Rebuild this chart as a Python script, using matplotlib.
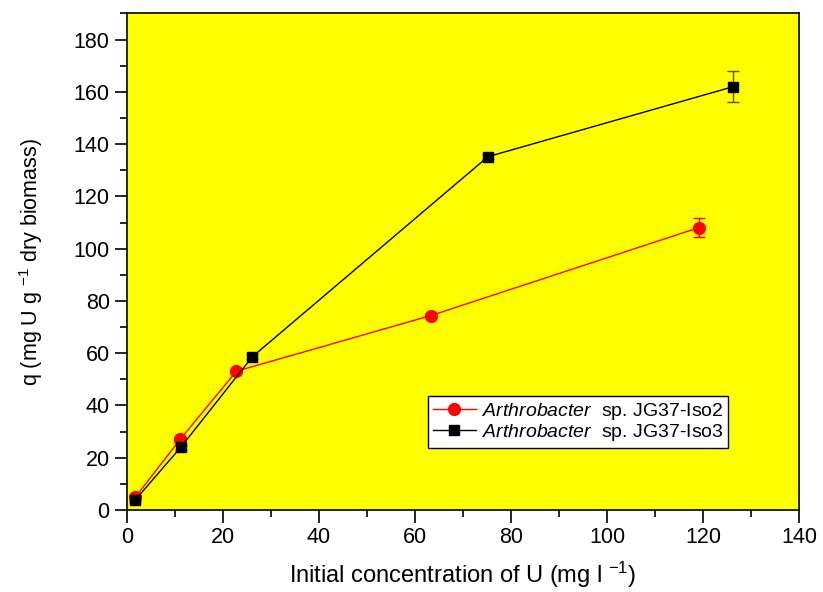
import matplotlib
matplotlib.use("Agg")
import matplotlib.pyplot as plt
from matplotlib.ticker import MultipleLocator
from matplotlib.lines import Line2D

plt.rcParams['font.family'] = ['Liberation Sans', 'DejaVu Sans']
plt.rcParams['mathtext.fontset'] = 'custom'
plt.rcParams['mathtext.rm'] = 'Liberation Sans'
plt.rcParams['mathtext.it'] = 'Liberation Sans:italic'

# Data
x_iso2 = [1.7, 11.1, 22.8, 63.3, 119.2]
q_iso2 = [4.8, 27.1, 53.1, 74.4, 108.1]
err_iso2 = [0.8, 1.0, 1.0, 1.0, 3.5]
x_iso3 = [1.7, 11.2, 26.1, 75.2, 126.3]
q_iso3 = [3.8, 24.0, 58.6, 135.2, 162.0]
err_iso3 = [0.8, 1.0, 1.0, 1.0, 6.0]
label_iso2 = r"$\it{Arthrobacter}$  sp. JG37-Iso2"
label_iso3 = r"$\it{Arthrobacter}$  sp. JG37-Iso3"

fig = plt.figure(figsize=(8.23, 5.92), dpi=100)
ax = fig.add_axes([0.1543, 0.1385, 0.8165, 0.8387])
ax.set_facecolor('#ffff00')

ax.errorbar(x_iso2, q_iso2, yerr=err_iso2, color='red', lw=1.0, marker='o',
            markersize=8.5, capsize=4, elinewidth=1.0, zorder=3)
ax.errorbar(x_iso3, q_iso3, yerr=err_iso3, color='black', lw=1.0, marker='s',
            markersize=7.5, capsize=4, elinewidth=1.0, ecolor='#555500', zorder=4)

ax.set_xlim(0, 140)
ax.set_ylim(0, 190)
ax.xaxis.set_major_locator(MultipleLocator(20))
ax.xaxis.set_minor_locator(MultipleLocator(10))
ax.yaxis.set_major_locator(MultipleLocator(20))
ax.yaxis.set_minor_locator(MultipleLocator(10))
ax.tick_params(which='major', direction='out', length=9, width=1.2, labelsize=15.5)
ax.tick_params(which='minor', direction='out', length=5, width=1.2)
ax.tick_params(top=False, right=False)
for s in ax.spines.values():
    s.set_linewidth(1.2)

ax.set_xlabel(r"Initial concentration of U (mg l $^{-1}$)", fontsize=17)
ax.set_ylabel(r"q (mg U g $^{-1}$ dry biomass)", fontsize=15.5)
ax.xaxis.set_label_coords(0.5, -0.10)
ax.yaxis.set_label_coords(-0.122, 0.5)

handles = [
    Line2D([], [], color='red', lw=1.0, marker='o', markersize=8.5),
    Line2D([], [], color='black', lw=1.0, marker='s', markersize=7.5),
]
leg = ax.legend(handles, [label_iso2, label_iso3], loc='upper left',
                bbox_to_anchor=(0.448, 0.23), borderaxespad=0,
                fontsize=14, frameon=True, fancybox=False, framealpha=1,
                edgecolor='black', handlelength=2.2, handletextpad=0.3,
                labelspacing=0.0, borderpad=0.25)
leg.get_frame().set_linewidth(1.0)

fig.savefig("out.png", dpi=100, facecolor='white')
